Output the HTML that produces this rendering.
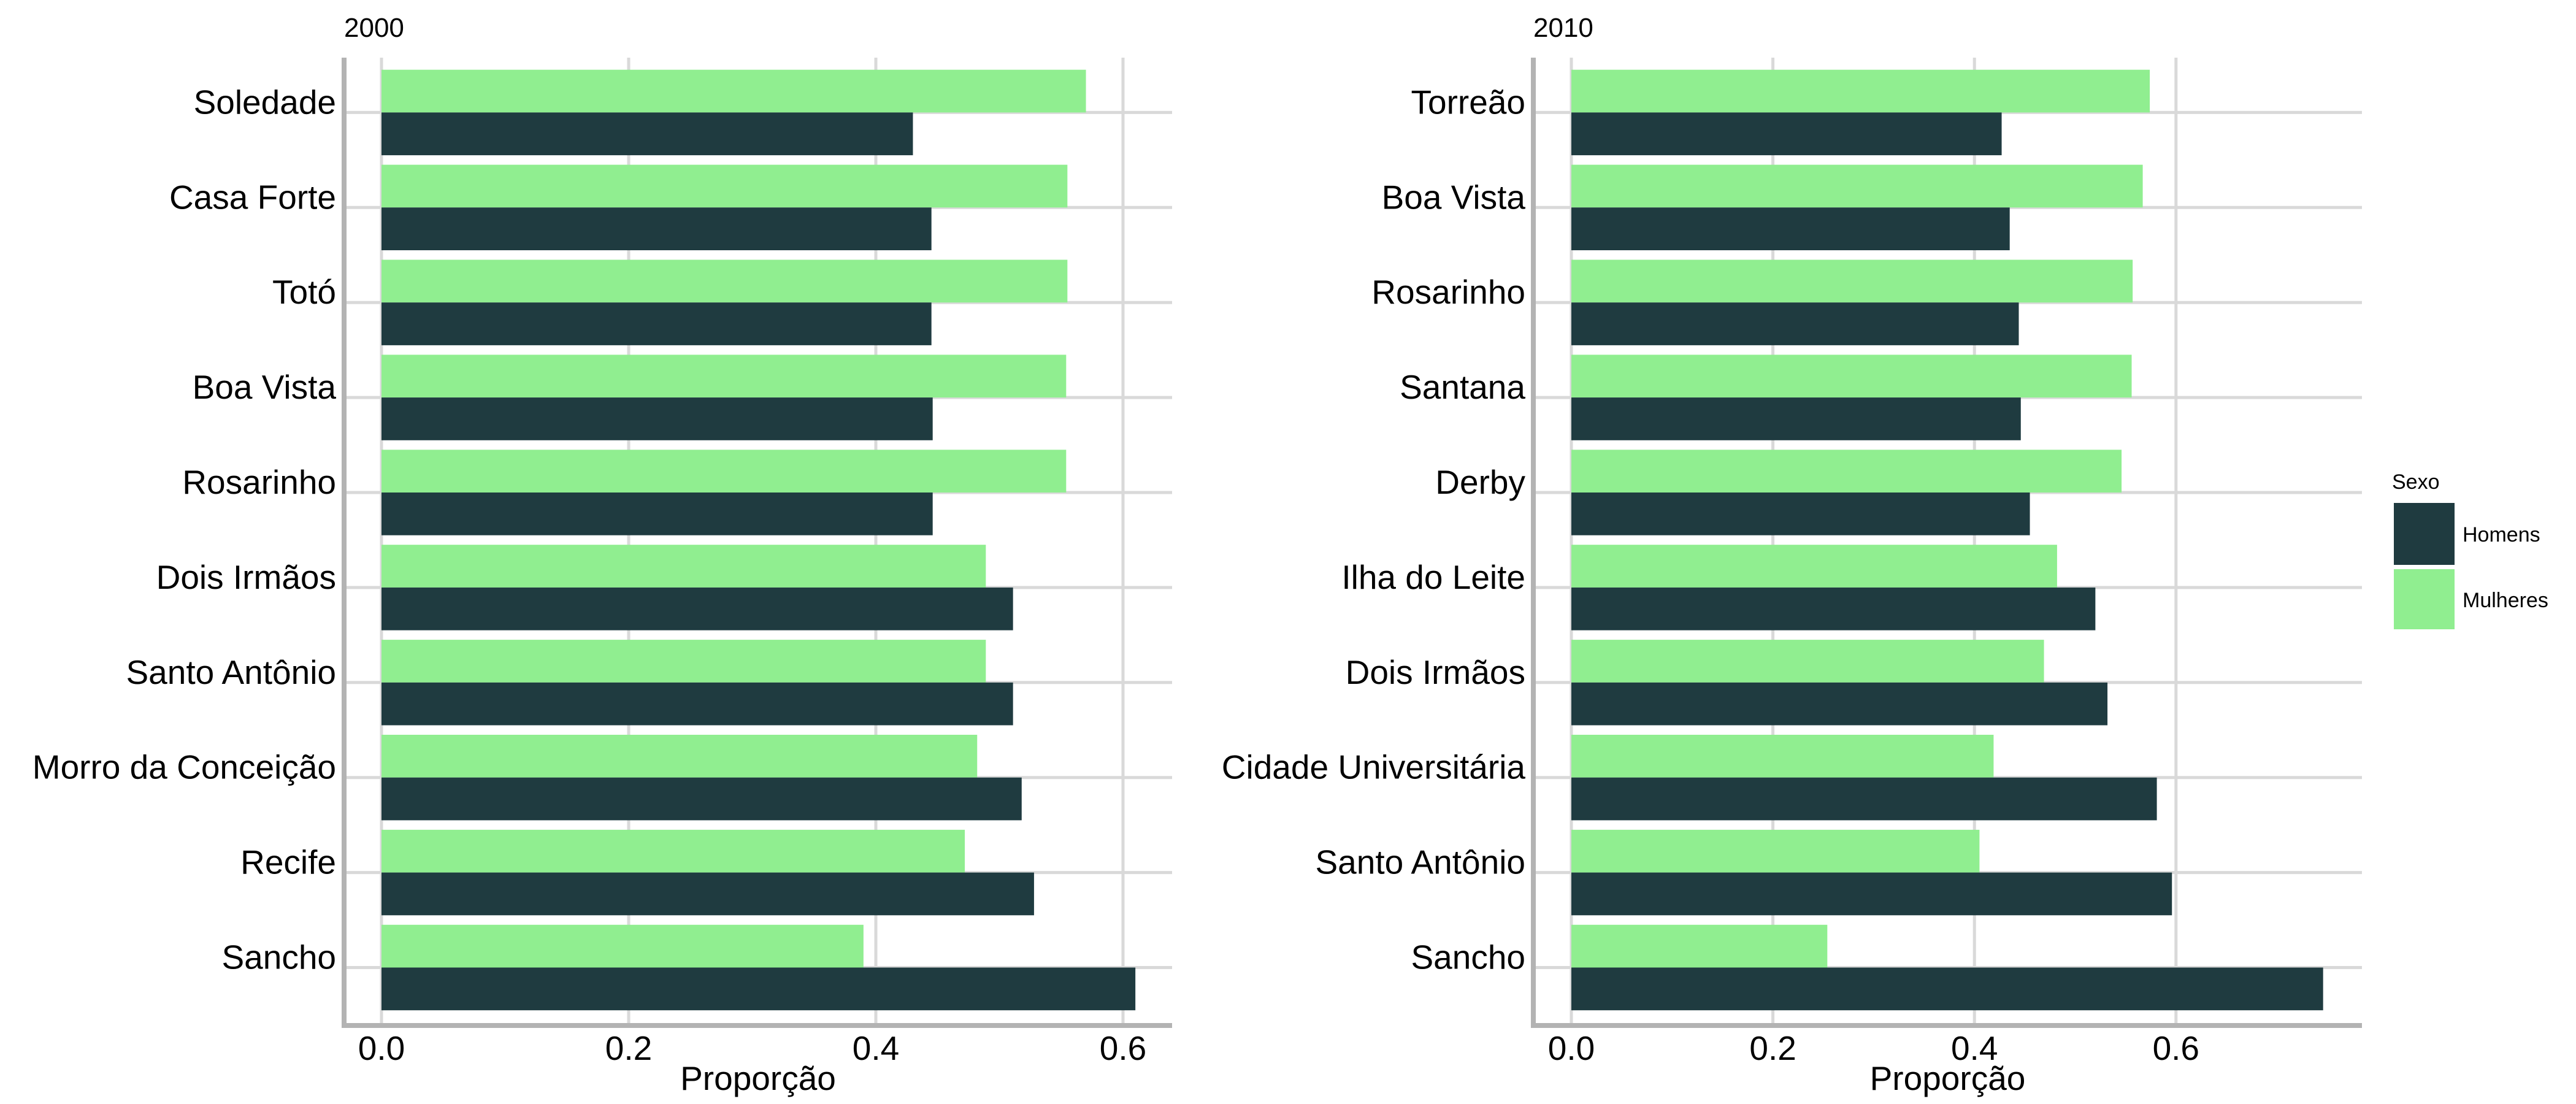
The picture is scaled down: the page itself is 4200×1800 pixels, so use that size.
<!DOCTYPE html>
<html><head><meta charset="utf-8"><style>
html,body{margin:0;padding:0;background:#fff;}
svg{display:block;font-family:"Liberation Sans",Arial,sans-serif;}
</style></head><body>
<svg id="chart" width="4200" height="1800" viewBox="0 0 4200 1800" xmlns="http://www.w3.org/2000/svg">
<text x="561" y="60" font-size="44" fill="#000">2000</text>
<text x="2500" y="60" font-size="44" fill="#000">2010</text>
<g>
<text x="3900" y="797" font-size="34" fill="#000">Sexo</text>
<rect x="3903" y="820" width="99" height="101" fill="#1f3b40"/>
<text x="4015" y="883" font-size="34" fill="#000">Homens</text>
<rect x="3903" y="928" width="99" height="98" fill="#90ee90"/>
<text x="4015" y="990" font-size="34" fill="#000">Mulheres</text>
</g>
</svg>
<script>
const cats2000 = ["Soledade","Casa Forte","Totó","Boa Vista","Rosarinho","Dois Irmãos","Santo Antônio","Morro da Conceição","Recife","Sancho"];
const mulheres2000 = [0.570,0.555,0.555,0.554,0.554,0.489,0.489,0.482,0.472,0.390];
const homens2000 = [0.430,0.445,0.445,0.446,0.446,0.511,0.511,0.518,0.528,0.610];
const cats2010 = ["Torreão","Boa Vista","Rosarinho","Santana","Derby","Ilha do Leite","Dois Irmãos","Cidade Universitária","Santo Antônio","Sancho"];
const mulheres2010 = [0.574,0.567,0.557,0.556,0.546,0.482,0.469,0.419,0.405,0.254];
const homens2010 = [0.427,0.435,0.444,0.446,0.455,0.520,0.532,0.581,0.596,0.746];
const xTicks = [0,0.2,0.4,0.6];
const xTickLabels = ["0.0","0.2","0.4","0.6"];

const svg = document.getElementById('chart');
const NS = 'http://www.w3.org/2000/svg';
function mk(tag, attrs, parent){
  const el = document.createElementNS(NS, tag);
  for (const k in attrs) el.setAttribute(k, attrs[k]);
  parent.appendChild(el);
  return el;
}
function panel(id, cats, mul, hom, axisX, x0, unit, rightX){
  const top = 94, bottom = 1672, firstY = 183.4, step = 154.9, bh = 69.7;
  const g = mk('g', {}, svg);
  
  
  const xs = v => x0 + v * unit;
  const ys = i => firstY + i * step;
  xTicks.forEach((t, i) => {
    const gl = mk('line', {x1: xs(t), x2: xs(t), y1: top, y2: bottom, stroke: '#d9d9d9', 'stroke-width': 5}, g);
    
    
    const tl = mk('text', {x: xs(t), y: 1728, 'font-size': 55, 'text-anchor': 'middle', fill: '#000'}, g);
    
    
    tl.textContent = xTickLabels[i];
  });
  cats.forEach((c, i) => {
    const hl = mk('line', {x1: axisX, x2: rightX, y1: ys(i), y2: ys(i), stroke: '#d9d9d9', 'stroke-width': 5}, g);
    
    
  });
  cats.forEach((c, i) => {
    const y = ys(i);
    const bm = mk('rect', {x: xs(0), y: y - bh, width: xs(mul[i]) - xs(0), height: bh, fill: '#90ee90'}, g);
    
    
    const bhm = mk('rect', {x: xs(0), y: y, width: xs(hom[i]) - xs(0), height: bh, fill: '#1f3b40'}, g);
    
    
    const lab = mk('text', {x: axisX - 13, y: y + 2, 'font-size': 55, 'text-anchor': 'end', fill: '#000'}, g);
    
    
    lab.textContent = c;
  });
  const ax = mk('polyline', {points: `${axisX},${top} ${axisX},${bottom} ${rightX},${bottom}`, fill: 'none', stroke: '#b3b3b3', 'stroke-width': 8}, g);
  
  
  const tt = mk('text', {x: (axisX + rightX) / 2, y: 1777, 'font-size': 55, 'text-anchor': 'middle', fill: '#000'}, g);
  
  
  tt.textContent = 'Proporção';
}
panel('2000', cats2000, mulheres2000, homens2000, 561, 622, 2015, 1911);
panel('2010', cats2010, mulheres2010, homens2010, 2500, 2562, 1643, 3851);
</script>
</body></html>
